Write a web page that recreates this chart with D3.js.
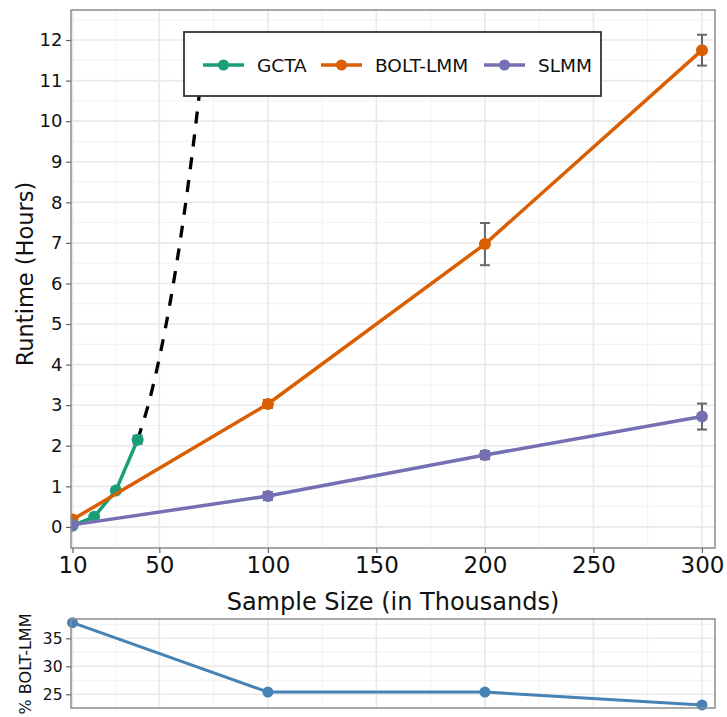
<!DOCTYPE html>
<html>
<head>
<meta charset="utf-8">
<script src="https://cdn.jsdelivr.net/npm/d3@7"></script>
<style>
  body { margin: 0; background: #fff; }
  svg text { font-family: "DejaVu Sans", sans-serif; fill: #111; }
</style>
</head>
<body>
<div id="chart"></div>
<script>
// sample sizes (thousands)
var sizes = [10, 100, 200, 300];
var gctaSizes = [10, 20, 30, 40];
var gctaHours = [0.03, 0.25, 0.9, 2.15];
var gctaErr = [0, 0, 0, 0.1];
var boltHours = [0.18, 3.03, 6.97, 11.75];
var boltErr = [0, 0.1, 0.52, 0.38];
var slmmHours = [0.05, 0.76, 1.77, 2.72];
var slmmErr = [0, 0.1, 0.1, 0.32];
// dashed extrapolation of GCTA
var gctaExtX = [40, 45, 50, 55, 60, 65, 70];
var gctaExtY = [2.15, 3.03, 4.16, 5.54, 7.19, 9.14, 11.41];
// lower panel: SLMM runtime as % of BOLT-LMM
var pctBolt = [37.8, 25.4, 25.4, 23.1];
var xTicks = [10, 50, 100, 150, 200, 250, 300];
var xMinor = [30, 75, 125, 175, 225, 275];
var yTicks = [0, 1, 2, 3, 4, 5, 6, 7, 8, 9, 10, 11, 12];
var y2Ticks = [25, 30, 35];
var seriesNames = ["GCTA", "BOLT-LMM", "SLMM"];
var colors = ["#1b9e77", "#d95f02", "#7570b3"];

var W = 727, H = 717;
var svg = d3.select("#chart").append("svg")
    .attr("width", W).attr("height", H);

var x = d3.scaleLinear().domain([9.3, 306]).range([71, 715]);
var y = d3.scaleLinear().domain([-0.52, 12.74]).range([548, 10]);
var y2 = d3.scaleLinear().domain([22.55, 38.45]).range([708, 619]);

svg.append("clipPath").attr("id", "clipMain")
  .append("rect").attr("x", 71).attr("y", 10).attr("width", 644).attr("height", 538);

function grid(g, yScale, yMaj, yMin, top, bottom) {
    g.selectAll(".hmin").data(yMin).enter().append("line")
        .attr("x1", 71).attr("x2", 715)
        .attr("y1", yScale).attr("y2", yScale)
        .attr("stroke", "#f2f2f2").attr("stroke-width", 1);
    g.selectAll(".vmin").data(xMinor).enter().append("line")
        .attr("x1", x).attr("x2", x).attr("y1", top).attr("y2", bottom)
        .attr("stroke", "#f2f2f2").attr("stroke-width", 1);
    g.selectAll(".hmaj").data(yMaj).enter().append("line")
        .attr("x1", 71).attr("x2", 715)
        .attr("y1", yScale).attr("y2", yScale)
        .attr("stroke", "#e9e9e9").attr("stroke-width", 1.6);
    g.selectAll(".vmaj").data(xTicks).enter().append("line")
        .attr("x1", x).attr("x2", x).attr("y1", top).attr("y2", bottom)
        .attr("stroke", "#e9e9e9").attr("stroke-width", 1.6);
}

// ---- main panel ----
var main = svg.append("g");
var yMinor = d3.range(-0.5, 13, 1);
grid(main, y, yTicks, yMinor, 10, 548);

var plot = main.append("g").attr("clip-path", "url(#clipMain)");

var line = d3.line().x(function(d){ return x(d[0]); }).y(function(d){ return y(d[1]); });

// dashed extrapolation
plot.append("path")
    .datum(d3.zip(gctaExtX, gctaExtY))
    .attr("d", line.curve(d3.curveMonotoneX))
    .attr("fill", "none").attr("stroke", "#000")
    .attr("stroke-width", 3.3).attr("stroke-dasharray", "12,11");
line.curve(d3.curveLinear);

var series = [
    { xs: gctaSizes, ys: gctaHours, err: gctaErr, color: colors[0] },
    { xs: sizes, ys: boltHours, err: boltErr, color: colors[1] },
    { xs: sizes, ys: slmmHours, err: slmmErr, color: colors[2] }
];

series.forEach(function(s) {
    var pts = s.xs.map(function(v, i){ return [v, s.ys[i], s.err[i]]; });
    var eb = plot.selectAll(null).data(pts.filter(function(d){ return d[2] > 0; }))
        .enter().append("g").attr("stroke", "#666").attr("stroke-width", 2).attr("fill", "none");
    eb.append("line")
        .attr("x1", function(d){ return x(d[0]); }).attr("x2", function(d){ return x(d[0]); })
        .attr("y1", function(d){ return y(d[1] + d[2]); }).attr("y2", function(d){ return y(d[1] - d[2]); });
    eb.append("line")
        .attr("x1", function(d){ return x(d[0]) - 5; }).attr("x2", function(d){ return x(d[0]) + 5; })
        .attr("y1", function(d){ return y(d[1] + d[2]); }).attr("y2", function(d){ return y(d[1] + d[2]); });
    eb.append("line")
        .attr("x1", function(d){ return x(d[0]) - 5; }).attr("x2", function(d){ return x(d[0]) + 5; })
        .attr("y1", function(d){ return y(d[1] - d[2]); }).attr("y2", function(d){ return y(d[1] - d[2]); });
    plot.append("path").datum(pts)
        .attr("d", line)
        .attr("fill", "none").attr("stroke", s.color).attr("stroke-width", 3.5);
    plot.selectAll(null).data(pts).enter().append("circle")
        .attr("cx", function(d){ return x(d[0]); })
        .attr("cy", function(d){ return y(d[1]); })
        .attr("r", 6).attr("fill", s.color);
});

main.append("rect").attr("x", 71).attr("y", 10).attr("width", 644).attr("height", 538)
    .attr("fill", "none").attr("stroke", "#8c8c8c").attr("stroke-width", 1.5);

var yAxis = main.append("g").attr("transform", "translate(71,0)")
    .call(d3.axisLeft(y).tickValues(yTicks).tickSizeInner(5).tickSizeOuter(0).tickPadding(3.5));
yAxis.select(".domain").remove();
yAxis.selectAll(".tick line").attr("stroke", "#666").attr("stroke-width", 1.2);
yAxis.selectAll("text").style("font-size", "18px").attr("fill", "#111");

var xAxis = main.append("g").attr("transform", "translate(0,548)")
    .call(d3.axisBottom(x).tickValues(xTicks).tickSizeInner(5).tickSizeOuter(0).tickPadding(4));
xAxis.select(".domain").remove();
xAxis.selectAll(".tick line").attr("stroke", "#666").attr("stroke-width", 1.2);
xAxis.selectAll("text").style("font-size", "23px").attr("fill", "#111");

svg.append("text").attr("x", 393).attr("y", 610)
    .attr("text-anchor", "middle").style("font-size", "24px")
    .text("Sample Size (in Thousands)");
svg.append("text").attr("transform", "translate(33,274) rotate(-90)")
    .attr("text-anchor", "middle").style("font-size", "22.5px")
    .text("Runtime (Hours)");

// legend
var leg = svg.append("g");
leg.append("rect").attr("x", 184).attr("y", 32).attr("width", 417).attr("height", 64)
    .attr("fill", "#fff").attr("stroke", "#333").attr("stroke-width", 1.8);
var legX = [203, 321, 484];
seriesNames.forEach(function(n, i) {
    var g = leg.append("g").attr("transform", "translate(" + legX[i] + ",65)");
    g.append("line").attr("x1", 0).attr("x2", 41).attr("stroke", colors[i]).attr("stroke-width", 3.5);
    g.append("circle").attr("cx", 20.5).attr("r", 5.5).attr("fill", colors[i]);
    g.append("text").attr("x", 54).attr("y", 6.5).style("font-size", "18.5px").text(n);
});

// ---- lower panel ----
var low = svg.append("g");
grid(low, y2, y2Ticks, [27.5, 32.5, 37.5], 619, 708);
var pts2 = sizes.map(function(v, i){ return [v, pctBolt[i]]; });
var line2 = d3.line().x(function(d){ return x(d[0]); }).y(function(d){ return y2(d[1]); });
low.append("path").datum(pts2).attr("d", line2)
    .attr("fill", "none").attr("stroke", "#4682b4").attr("stroke-width", 3);
low.selectAll(null).data(pts2).enter().append("circle")
    .attr("cx", function(d){ return x(d[0]); }).attr("cy", function(d){ return y2(d[1]); })
    .attr("r", 5.5).attr("fill", "#4682b4");
low.append("rect").attr("x", 71).attr("y", 619).attr("width", 644).attr("height", 89)
    .attr("fill", "none").attr("stroke", "#8c8c8c").attr("stroke-width", 1.5);
var y2Axis = low.append("g").attr("transform", "translate(71,0)")
    .call(d3.axisLeft(y2).tickValues(y2Ticks).tickSizeInner(5).tickSizeOuter(0).tickPadding(3.5));
y2Axis.select(".domain").remove();
y2Axis.selectAll(".tick line").attr("stroke", "#666").attr("stroke-width", 1.2);
y2Axis.selectAll("text").style("font-size", "15.5px").attr("fill", "#111");
svg.append("text").attr("transform", "translate(31,664) rotate(-90)")
    .attr("text-anchor", "middle").style("font-size", "16px")
    .text("% BOLT-LMM");
</script>
</body>
</html>
